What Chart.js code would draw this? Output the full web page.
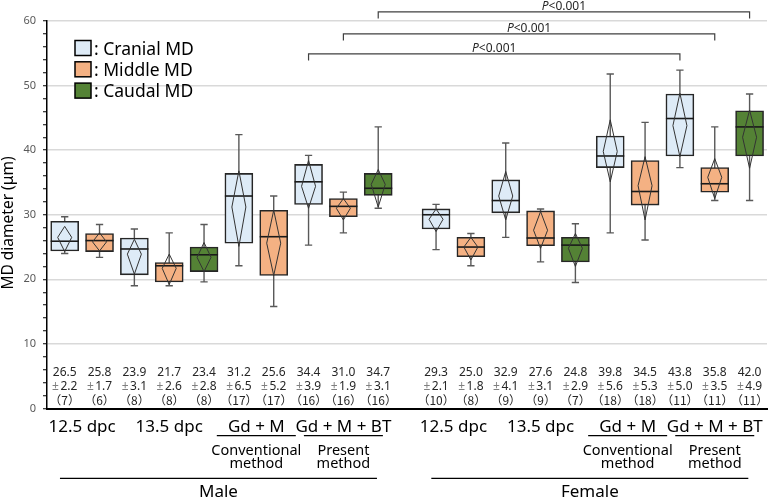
<!doctype html>
<html lang="en">
<head>
<meta charset="utf-8">
<title>MD diameter</title>
<script src="https://cdn.jsdelivr.net/npm/chart.js@4"></script>
<style>
  html, body { margin: 0; padding: 0; background: #fff; }
  #wrap { width: 770px; height: 500px; }
</style>
</head>
<body>
<div id="wrap"><canvas id="mdChart" width="770" height="500"></canvas></div>
<script>
// groups and labels
const sexes = ['Male', 'Female'];
const groupNames = ['12.5 dpc', '13.5 dpc', 'Gd + M', 'Gd + M + BT'];
const groupNotes = [[], [], ['Conventional', 'method'], ['Present', 'method']];
const regions = ['Cranial MD', 'Middle MD', 'Caudal MD'];
const regionColors = ['#deebf7', '#f4b183', '#548235'];

// one entry per box (male first, then female)
const boxSex    = [0, 0, 0, 0, 0, 0, 0, 0, 0, 0, 1, 1, 1, 1, 1, 1, 1, 1, 1, 1];
const boxGroup  = [0, 0, 1, 1, 1, 2, 2, 3, 3, 3, 0, 0, 1, 1, 1, 2, 2, 3, 3, 3];
const boxRegion = [0, 1, 0, 1, 2, 0, 1, 0, 1, 2, 0, 1, 0, 1, 2, 0, 1, 0, 1, 2];

// values (µm)
const whiskerLow  = [24.0, 23.4, 19.0, 19.0, 19.6, 22.1, 15.8, 25.3, 27.2, 31.0, 24.6, 22.1, 26.5, 22.7, 19.5, 27.2, 26.1, 37.3, 32.2, 32.2];
const q1          = [24.4, 24.3, 20.7, 19.6, 21.2, 25.6, 20.6, 31.6, 29.7, 33.0, 27.8, 23.5, 30.3, 25.2, 22.7, 37.3, 31.5, 39.1, 33.5, 39.1];
const medians     = [25.9, 26.0, 24.7, 22.1, 23.8, 32.9, 26.6, 35.1, 31.3, 34.1, 30.0, 25.0, 32.2, 26.4, 25.3, 39.1, 33.6, 44.9, 34.8, 43.6];
const q3          = [29.0, 27.1, 26.4, 22.6, 25.0, 36.4, 30.7, 37.8, 32.5, 36.4, 30.9, 26.5, 35.4, 30.6, 26.5, 42.2, 38.4, 48.7, 37.3, 46.1];
const whiskerHigh = [29.7, 28.5, 27.8, 27.2, 28.5, 42.4, 32.9, 39.2, 33.5, 43.6, 31.6, 27.1, 41.1, 30.9, 28.6, 51.8, 44.3, 52.4, 43.6, 48.7];
const diamondLow  = [24.3, 24.4, 20.8, 19.2, 21.2, 25.1, 20.6, 31.0, 29.2, 31.2, 27.4, 23.0, 29.2, 24.8, 22.0, 35.1, 29.2, 39.0, 32.5, 37.2];
const diamondHigh = [28.2, 27.2, 26.2, 23.9, 25.7, 36.8, 30.7, 38.4, 32.5, 37.0, 30.9, 26.5, 36.7, 30.5, 27.1, 44.7, 39.0, 48.8, 38.7, 46.2];
const means  = [26.5, 25.8, 23.9, 21.7, 23.4, 31.2, 25.6, 34.4, 31.0, 34.7, 29.3, 25.0, 32.9, 27.6, 24.8, 39.8, 34.5, 43.8, 35.8, 42.0];
const sds    = [2.2, 1.7, 3.1, 2.6, 2.8, 6.5, 5.2, 3.9, 1.9, 3.1, 2.1, 1.8, 4.1, 3.1, 2.9, 5.6, 5.3, 5.0, 3.5, 4.9];
const counts = [7, 6, 8, 8, 8, 17, 17, 16, 16, 16, 10, 8, 9, 9, 7, 18, 18, 11, 11, 11];

// significance brackets
const bracketPairs = [[7, 17], [8, 18], [9, 19]];
const bracketLevels = [54.9, 58.0, 61.4];
const bracketText = '<0.001';

const yTicks = [0, 10, 20, 30, 40, 50, 60];

// female boxes sit a bit further right than one slot
const sexGap = 0.66;
const boxPos = boxSex.map((s, i) => i + s * sexGap);

const FONT = '"Noto Sans", "Noto Sans CJK JP", sans-serif';
const CJK = '"Noto Sans CJK JP", "Noto Sans", sans-serif';

const boxPlotExtras = {
  id: 'boxPlotExtras',
  beforeDatasetsDraw(chart) {
    const { ctx, scales: { y } } = chart;
    const bars = chart.getDatasetMeta(0).data;
    ctx.save();
    ctx.strokeStyle = '#595959';
    ctx.lineWidth = 1.4;
    bars.forEach((bar, i) => {
      const top = y.getPixelForValue(whiskerHigh[i]);
      const bot = y.getPixelForValue(whiskerLow[i]);
      const cap = bar.width * 0.13;
      ctx.beginPath();
      ctx.moveTo(bar.x, top); ctx.lineTo(bar.x, bot);
      ctx.moveTo(bar.x - cap, top); ctx.lineTo(bar.x + cap, top);
      ctx.moveTo(bar.x - cap, bot); ctx.lineTo(bar.x + cap, bot);
      ctx.stroke();
    });
    ctx.restore();
  },
  afterDatasetsDraw(chart) {
    const { ctx, scales: { y } } = chart;
    const bars = chart.getDatasetMeta(0).data;
    ctx.save();
    bars.forEach((bar, i) => {
      const half = bar.width / 2;
      // median
      const ym = y.getPixelForValue(medians[i]);
      ctx.strokeStyle = '#1a1a1a';
      ctx.lineWidth = 1.6;
      ctx.beginPath();
      ctx.moveTo(bar.x - half, ym); ctx.lineTo(bar.x + half, ym);
      ctx.stroke();
      // mean diamond
      const dw = bar.width * 0.25;
      const yt = y.getPixelForValue(diamondHigh[i]);
      const yb = y.getPixelForValue(diamondLow[i]);
      const yc = y.getPixelForValue(means[i]);
      ctx.strokeStyle = '#333';
      ctx.lineWidth = 1;
      ctx.beginPath();
      ctx.moveTo(bar.x, yt);
      ctx.lineTo(bar.x + dw, yc);
      ctx.lineTo(bar.x, yb);
      ctx.lineTo(bar.x - dw, yc);
      ctx.closePath();
      ctx.stroke();
    });
    ctx.restore();
  },
  afterDraw(chart) {
    const { ctx, chartArea: area, scales: { y } } = chart;
    const bars = chart.getDatasetMeta(0).data;
    ctx.save();

    // y axis title
    ctx.save();
    ctx.translate(9, 223);
    ctx.rotate(-Math.PI / 2);
    ctx.font = '15.5px ' + FONT;
    ctx.fillStyle = '#000';
    ctx.textAlign = 'center';
    ctx.textBaseline = 'middle';
    ctx.fillText('MD diameter (μm)', 0, 0);
    ctx.restore();

    // legend
    regions.forEach((name, r) => {
      const top = 40.5 + r * 21.3;
      ctx.fillStyle = regionColors[r];
      ctx.fillRect(75, top, 16, 15);
      ctx.strokeStyle = '#000';
      ctx.lineWidth = 1.5;
      ctx.strokeRect(75, top, 16, 15);
      ctx.fillStyle = '#000';
      ctx.font = '17.5px ' + FONT;
      ctx.textAlign = 'left';
      ctx.textBaseline = 'alphabetic';
      ctx.fillText(': ' + name, 94, top + 14);
    });

    // mean, sd, n under each box
    ctx.textBaseline = 'middle';
    bars.forEach((bar, i) => {
      ctx.font = '12px ' + FONT;
      ctx.textAlign = 'center';
      ctx.fillStyle = '#262626';
      ctx.fillText(means[i].toFixed(1), bar.x, area.bottom - 36);
      const pm = '±';
      const sdText = sds[i].toFixed(1);
      const gap = 1.5;
      const wPm = ctx.measureText(pm).width;
      const wSd = ctx.measureText(sdText).width;
      const sx = bar.x - (wPm + gap + wSd) / 2;
      ctx.textAlign = 'left';
      ctx.fillStyle = '#808080';
      ctx.fillText(pm, sx, area.bottom - 22);
      ctx.fillStyle = '#262626';
      ctx.fillText(sdText, sx + wPm + gap, area.bottom - 22);
      ctx.textAlign = 'center';
      ctx.font = '12px ' + CJK;
      ctx.fillText('（' + counts[i] + '）', bar.x, area.bottom - 8);
    });

    // x labels
    ctx.fillStyle = '#000';
    ctx.strokeStyle = '#000';
    ctx.lineWidth = 1.2;
    ctx.textBaseline = 'alphabetic';
    ctx.textAlign = 'center';
    sexes.forEach((sexName, s) => {
      const sexIdx = boxSex.map((v, i) => v === s ? i : -1).filter(i => i >= 0);
      groupNames.forEach((g, gi) => {
        const idx = sexIdx.filter(i => boxGroup[i] === gi);
        const cx = idx.reduce((a, i) => a + bars[i].x, 0) / idx.length;
        ctx.font = '17px ' + FONT;
        ctx.fillText(g, cx, 432);
        if (groupNotes[gi].length) {
          ctx.beginPath();
          ctx.moveTo(cx - 39.5, 435.7); ctx.lineTo(cx + 39.5, 435.7);
          ctx.stroke();
          ctx.font = '14.5px ' + FONT;
          groupNotes[gi].forEach((line, li) => ctx.fillText(line, cx, 455 + li * 12.5));
        }
      });
      const cs = (bars[sexIdx[0]].x + bars[sexIdx[sexIdx.length - 1]].x) / 2 - 3;
      ctx.beginPath();
      ctx.moveTo(cs - 158.5, 478.3); ctx.lineTo(cs + 158.5, 478.3);
      ctx.stroke();
      ctx.font = '17px ' + FONT;
      ctx.fillText(sexName, cs, 496.5);
    });

    // significance brackets
    ctx.strokeStyle = '#404040';
    ctx.lineWidth = 1.2;
    bracketPairs.forEach(([a, b], k) => {
      const x1 = bars[a].x, x2 = bars[b].x;
      const yl = y.getPixelForValue(bracketLevels[k]);
      ctx.beginPath();
      ctx.moveTo(x1, yl + 6.6); ctx.lineTo(x1, yl);
      ctx.lineTo(x2, yl); ctx.lineTo(x2, yl + 6.6);
      ctx.stroke();
      ctx.fillStyle = '#262626';
      ctx.font = 'italic 12px ' + FONT;
      const wP = ctx.measureText('P').width;
      ctx.font = '12px ' + FONT;
      const wR = ctx.measureText(bracketText).width;
      const sx = (x1 + x2) / 2 - (wP + wR) / 2;
      ctx.textAlign = 'left';
      ctx.font = 'italic 12px ' + FONT;
      ctx.fillText('P', sx, yl - 1.8);
      ctx.font = '12px ' + FONT;
      ctx.fillText(bracketText, sx + wP, yl - 1.8);
    });

    ctx.restore();
  }
};

new Chart(document.getElementById('mdChart'), {
  type: 'bar',
  data: {
    datasets: [{
      label: 'MD diameter',
      data: boxPos.map((p, i) => ({ x: p, y: [q1[i], q3[i]] })),
      backgroundColor: boxRegion.map(r => regionColors[r]),
      borderColor: '#262626',
      borderWidth: 1.6,
      borderSkipped: false,
      barThickness: 28
    }]
  },
  options: {
    responsive: false,
    animation: false,
    layout: { padding: { left: 0, right: 3, top: 21, bottom: 91.5 } },
    plugins: {
      legend: { display: false },
      tooltip: { enabled: false }
    },
    scales: {
      x: {
        type: 'linear',
        min: -0.508,
        max: 20.16,
        offset: false,
        grid: { display: false, drawTicks: false },
        ticks: { display: false },
        border: { display: true, color: '#000', width: 2 }
      },
      y: {
        min: 0,
        max: 60,
        afterFit: s => { s.width = 47; },
        ticks: {
          stepSize: 2,
          autoSkip: false,
          padding: 7,
          color: '#595959',
          font: { family: 'Noto Sans', size: 11 },
          callback: v => yTicks.includes(v) ? v : ''
        },
        grid: {
          color: c => (yTicks.includes(c.tick.value) && c.tick.value !== 0) ? '#d9d9d9' : 'rgba(0,0,0,0)',
          lineWidth: 1.5,
          tickColor: '#000',
          tickLength: 4,
          tickWidth: 1
        },
        border: { display: true, color: '#000', width: 1.5 }
      }
    }
  },
  plugins: [boxPlotExtras]
});
</script>
</body>
</html>
